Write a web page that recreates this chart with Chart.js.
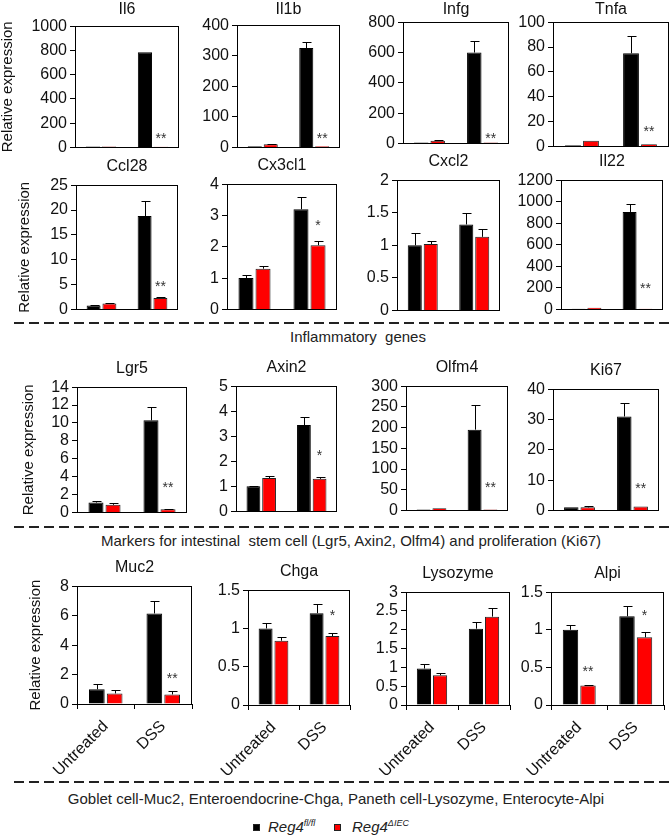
<!DOCTYPE html>
<html>
<head>
<meta charset="utf-8">
<script src="https://cdn.jsdelivr.net/npm/chart.js@4.4.0/dist/chart.umd.min.js"></script>
<style>
body { margin: 0; background: #fff; font-family: "Liberation Sans", Arial, sans-serif; }
#page { position: relative; width: 672px; height: 838px; overflow: hidden; }
.cv { position: absolute; }
.cap { position: absolute; left: 0; width: 672px; text-align: center; font-size: 15px; color: #222; white-space: pre; }
.sq { position: absolute; width: 7px; height: 7px; border: 1px solid #222; box-sizing: border-box; }
.lg { position: absolute; font-size: 15px; font-style: italic; color: #222; }
.lg sup { font-size: 9px; }
</style>
</head>
<body>
<div id="page">
  <svg width="672" height="838" style="position:absolute;left:0;top:0">
    <line x1="14" y1="323" x2="672" y2="323" stroke="#222" stroke-width="2" stroke-dasharray="10 5"/>
    <line x1="14" y1="527" x2="672" y2="527" stroke="#222" stroke-width="2" stroke-dasharray="10 5"/>
    <line x1="14" y1="782" x2="672" y2="782" stroke="#222" stroke-width="2" stroke-dasharray="10 5"/>
  </svg>
  <div class="cap" style="top:328px;left:22px">Inflammatory  genes</div>
  <div class="cap" style="top:532px;left:15px">Markers for intestinal  stem cell (Lgr5, Axin2, Olfm4) and proliferation (Ki67)</div>
  <div class="cap" style="top:790px">Goblet cell-Muc2, Enteroendocrine-Chga, Paneth cell-Lysozyme, Enterocyte-Alpi</div>
  <div class="sq" style="left:253px;top:824px;background:#000"></div>
  <div class="lg" style="left:268px;top:818px">Reg4<sup>fl/fl</sup></div>
  <div class="sq" style="left:334px;top:824px;background:#f00"></div>
  <div class="lg" style="left:352px;top:818px">Reg4<sup>ΔIEC</sup></div>
</div>
<script>
// groups on the x axis and the two mouse lines
var groups = ["Untreated", "DSS"];
var lines = ["Reg4 fl/fl", "Reg4 ΔIEC"];

var genes = ["Il6", "Il1b", "Infg", "Tnfa",
             "Ccl28", "Cx3cl1", "Cxcl2", "Il22",
             "Lgr5", "Axin2", "Olfm4", "Ki67",
             "Muc2", "Chga", "Lysozyme", "Alpi"];

// mean relative expression [Untreated, DSS]
var flox = [[8, 785], [4, 325], [6, 600], [1, 75],
            [0.8, 18.8], [1.0, 3.2], [1.0, 1.32], [6, 905],
            [1.1, 10.3], [1.0, 3.45], [2, 195], [1, 31],
            [1.0, 6.15], [1.0, 1.2], [0.97, 2.03], [1.0, 1.18]];
var floxErr = [[0, 0], [0, 20], [0, 75], [0, 14],
               [0.15, 3.0], [0.1, 0.4], [0.19, 0.17], [0, 75],
               [0.2, 1.45], [0.02, 0.33], [0, 60], [0, 4.5],
               [0.35, 0.85], [0.07, 0.12], [0.12, 0.17], [0.07, 0.13]];
var iec = [[8, 6], [10, 4], [18, 6], [4.5, 1.8],
           [1.2, 2.3], [1.3, 2.05], [1.02, 1.13], [15, 6],
           [0.85, 0.35], [1.33, 1.3], [5, 2], [1, 1.3],
           [0.72, 0.65], [0.84, 0.9], [0.79, 2.35], [0.26, 0.9]];
var iecErr = [[0, 0], [1, 0], [4, 0], [0, 0],
              [0.15, 0.15], [0.1, 0.15], [0.04, 0.12], [0, 0],
              [0.25, 0.03], [0.1, 0.08], [0, 0], [0.3, 0],
              [0.2, 0.2], [0.05, 0.04], [0.05, 0.22], [0.01, 0.07]];

// significance marks over the ΔIEC bars and the value they sit at
var stars = [["", "**"], ["", "**"], ["", "**"], ["", "**"],
             ["", "**"], ["", "*"], ["", ""], ["", "**"],
             ["", "**"], ["", "*"], ["", "**"], ["", "**"],
             ["", "**"], ["", "*"], ["", ""], ["**", "*"]];
var starAt = [[0, 90], [0, 36], [0, 45], [0, 14],
              [0, 5], [0, 2.75], [0, 0], [0, 212],
              [0, 3.1], [0, 2.34], [0, 62], [0, 7.9],
              [0, 1.9], [0, 1.2], [0, 0], [0.48, 1.22]];

var yMax = [1000, 400, 800, 100, 25, 4, 2, 1200, 14, 5, 300, 40, 8, 1.5, 3, 1.5];
var yStep = [200, 100, 200, 20, 5, 1, 0.5, 200, 2, 1, 50, 10, 2, 0.5, 0.5, 0.5];

// plot boxes on the page: left, top, right, bottom
var boxes = [[75, 26, 179, 148], [237, 25, 340, 148], [403, 22, 509, 144], [553, 22, 669, 147],
             [76, 185, 178, 310], [227, 184, 337, 310], [397, 180, 500, 311], [561, 180, 663, 310],
             [77, 387, 187, 513], [236, 386, 337, 512], [406, 386, 508, 511], [553, 389, 659, 511],
             [77, 586, 192, 704], [248, 590, 350, 705], [406, 592, 510, 705], [551, 592, 664, 705]];
var firstColLeft = [0, 17, 21, 28];

var FONT = "'Liberation Sans', Arial, sans-serif";

function makePlugin(i) {
    return {
        id: 'extras' + i,
        afterDatasetsDraw: function(chart) {
            var ctx = chart.ctx, a = chart.chartArea, ys = chart.scales.y;
            ctx.save();
            ctx.strokeStyle = '#000';
            ctx.lineWidth = 1;
            ctx.strokeRect(Math.round(a.left) + 0.5, Math.round(a.top) + 0.5,
                           Math.round(a.right - a.left) - 1, Math.round(a.bottom - a.top));
            var errs = [floxErr[i], iecErr[i]];
            var vals = [flox[i], iec[i]];
            for (var d = 0; d < 2; d++) {
                var meta = chart.getDatasetMeta(d);
                meta.data.forEach(function(el, j) {
                    var e = errs[d][j];
                    if (!e) return;
                    var yt = Math.round(ys.getPixelForValue(vals[d][j] + e)) + 0.5;
                    var x = Math.round(el.x) + 0.5;
                    ctx.beginPath();
                    ctx.moveTo(x, el.y);
                    ctx.lineTo(x, yt);
                    ctx.moveTo(x - 4, yt);
                    ctx.lineTo(x + 5, yt);
                    ctx.stroke();
                });
            }
            var rm = chart.getDatasetMeta(1);
            ctx.fillStyle = '#333';
            ctx.font = '14px ' + FONT;
            ctx.textAlign = 'center';
            ctx.textBaseline = 'middle';
            rm.data.forEach(function(el, j) {
                if (stars[i][j]) {
                    ctx.fillText(stars[i][j], el.x, ys.getPixelForValue(starAt[i][j]) + 3);
                }
            });
            ctx.restore();
        }
    };
}

function makeChart(i) {
    var b = boxes[i];
    var col = i % 4, row = Math.floor(i / 4);
    var left = col == 0 ? firstColLeft[row] : b[0] - 58;
    var axisW = b[0] - left;
    var bottomH = row == 3 ? 76 : 12;
    var top = Math.max(0, b[1] - 28);
    var titleGap = b[1] - top - 19;
    var w = b[2] - left + 4, h = b[3] - top + bottomH;

    var cv = document.createElement('canvas');
    cv.className = 'cv';
    cv.width = w;
    cv.height = h;
    cv.style.left = left + 'px';
    cv.style.top = top + 'px';
    cv.style.width = w + 'px';
    cv.style.height = h + 'px';
    document.getElementById('page').appendChild(cv);

    var xScale;
    if (row == 3) {
        xScale = {
            display: true,
            grid: { display: true, drawOnChartArea: false, drawTicks: true, tickLength: 5, color: '#000', offset: true },
            border: { display: false },
            ticks: { maxRotation: 45, minRotation: 45, padding: 8, color: '#111', font: { size: 16, family: FONT } },
            afterFit: function(s) { s.height = bottomH; }
        };
    } else {
        xScale = { display: false };
    }

    new Chart(cv.getContext('2d'), {
        type: 'bar',
        data: {
            labels: groups,
            datasets: [
                { label: lines[0], data: flox[i], backgroundColor: '#000', borderColor: '#000', borderWidth: 1,
                  categoryPercentage: 0.62, barPercentage: 0.88 },
                { label: lines[1], data: iec[i], backgroundColor: '#ff0000', borderColor: '#222', borderWidth: 1,
                  categoryPercentage: 0.62, barPercentage: 0.88 }
            ]
        },
        options: {
            responsive: false,
            animation: false,
            devicePixelRatio: 1,
            layout: { padding: { left: 0, right: 4, top: 0, bottom: row == 3 ? 0 : bottomH } },
            plugins: {
                legend: { display: false },
                tooltip: { enabled: false },
                title: {
                    display: true, text: genes[i], color: '#111', fullSize: false,
                    font: { size: 16, family: FONT, weight: 'normal', lineHeight: 1.2 },
                    padding: { top: 0, bottom: titleGap }
                }
            },
            scales: {
                x: xScale,
                y: {
                    min: 0, max: yMax[i],
                    grid: { display: true, drawOnChartArea: false, drawTicks: true, tickLength: 5, color: '#000' },
                    border: { display: false },
                    ticks: { stepSize: yStep[i], autoSkip: false, padding: 3, color: '#111',
                             font: { size: 16, family: FONT },
                             callback: function(v) { return v; } },
                    title: { display: col == 0, text: 'Relative expression', color: '#111',
                             font: { size: 15, family: FONT, lineHeight: 1 }, padding: 0 },
                    afterFit: function(s) { s.width = axisW; }
                }
            }
        },
        plugins: [makePlugin(i)]
    });
}

for (var i = 0; i < genes.length; i++) {
    makeChart(i);
}
</script>
</body>
</html>
